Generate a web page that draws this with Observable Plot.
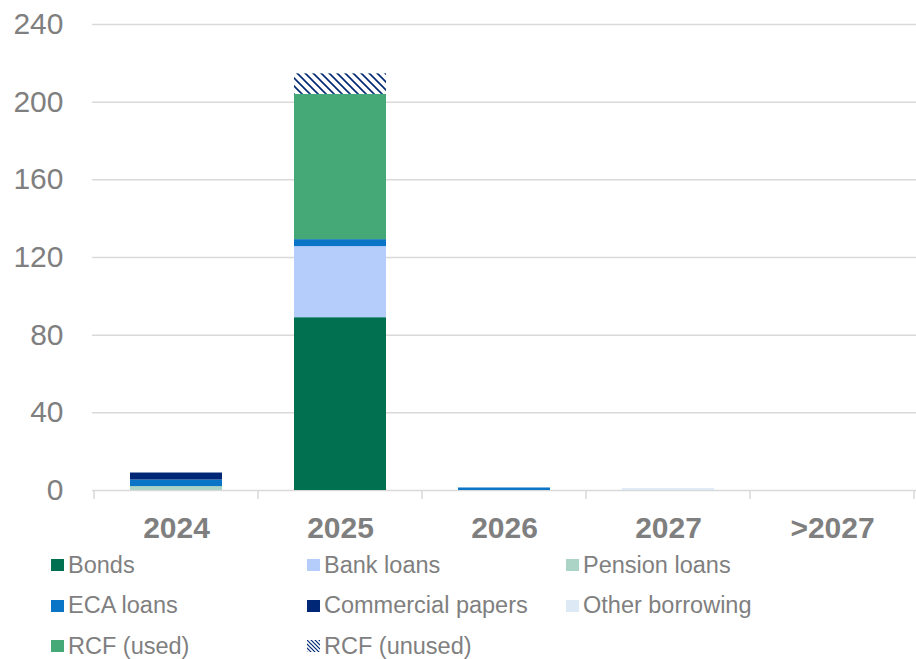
<!DOCTYPE html>
<html>
<head>
<meta charset="utf-8">
<script src="https://cdn.jsdelivr.net/npm/d3@7"></script>
<script src="https://cdn.jsdelivr.net/npm/@observablehq/plot@0.6"></script>
<style>
  html, body { margin: 0; padding: 0; background: #fff; }
  body { width: 916px; height: 659px; overflow: hidden; font-family: "Liberation Sans", Arial, sans-serif; }
  #legend { display: grid; grid-template-columns: 256px 259px 260px; padding-left: 51px; color: #7f7f7f; font-size: 23.5px; }
  .item { height: 40.5px; display: flex; align-items: center; }
  .sw { width: 13px; height: 12px; margin-right: 4px; flex: none; }
</style>
</head>
<body>
<div id="chart"></div>
<div id="legend"></div>
<script>
const years = ["2024", "2025", "2026", "2027", ">2027"];
const types = ["Bonds", "Bank loans", "Pension loans", "ECA loans", "Commercial papers", "Other borrowing", "RCF (used)", "RCF (unused)"];
const colors = ["#007050", "#b4cdfb", "#abd4c6", "#0a74c6", "#002776", "#dde9f5", "#45a877", "url(#hatch)"];
const bonds       = [0, 89, 0, 0, 0];
const bankLoans   = [0, 36.6, 0, 0, 0];
const pension     = [2.0, 0, 0, 0, 0];
const eca         = [3.4, 3.6, 1.3, 0, 0];
const cp          = [3.6, 0, 0, 0, 0];
const other       = [0, 0, 0, 1.0, 0];
const rcfUsed     = [0, 74.8, 0, 0, 0];
const rcfUnused   = [0, 10.6, 0, 0, 0];
const yTicks = [0, 40, 80, 120, 160, 200, 240];

const seriesValues = [bonds, bankLoans, pension, eca, cp, other, rcfUsed, rcfUnused];
const rows = [];
types.forEach((t, i) => years.forEach((y, j) => rows.push({year: y, type: t, value: seriesValues[i][j]})));

const grey = "#7f7f7f";
const gridColor = "#d9d9d9";

const boundaryTicks = (index, scales, values, dimensions) => {
  const x = scales.x, y = scales.y;
  const step = x.step(), bw = x.bandwidth();
  const half = (step - bw) / 2;
  const xs = years.map(c => x(c) - half);
  xs.push(x(years[years.length - 1]) + bw + half);
  const g = d3.create("svg:g");
  g.selectAll("line").data(xs).join("line")
    .attr("x1", d => d).attr("x2", d => d)
    .attr("y1", y(0)).attr("y2", y(0) + 9)
    .attr("stroke", gridColor).attr("stroke-width", 1.5);
  return g.node();
};

const chart = Plot.plot({
  width: 916,
  height: 545,
  marginLeft: 92,
  marginRight: 0,
  marginTop: 24,
  marginBottom: 55,
  style: { fontFamily: "'Liberation Sans', Arial, sans-serif", fontSize: "30px", color: grey, background: "#fff" },
  x: { domain: years, paddingInner: 0.44, paddingOuter: 0.22, label: null },
  y: { domain: [0, 240], label: null },
  color: { domain: types, range: colors },
  marks: [
    Plot.ruleY(yTicks, { stroke: gridColor, strokeWidth: 1.5 }),
    boundaryTicks,
    Plot.barY(rows, Plot.stackY({ x: "year", y: "value", fill: "type", order: types })),
    Plot.axisY({ ticks: yTicks, tickSize: 0, tickPadding: 29, fontSize: 30, fill: grey }),
    Plot.axisX({ tickSize: 0, tickPadding: 26, fontSize: 30, fontWeight: "bold", fill: grey })
  ]
});

// hatch pattern definition
const defs = d3.select(chart).insert("defs", ":first-child");
const pat = defs.append("pattern").attr("id", "hatch").attr("patternUnits", "userSpaceOnUse")
  .attr("width", 8).attr("height", 8);
pat.append("rect").attr("width", 8).attr("height", 8).attr("fill", "#fff");
pat.append("path").attr("d", "M0,0L8,8M-4,4L4,12M4,-4L12,4")
  .attr("stroke", "#002776").attr("stroke-width", 1.6);

document.getElementById("chart").appendChild(chart);

// legend
const legend = d3.select("#legend");
types.forEach((t, i) => {
  const item = legend.append("div").attr("class", "item");
  if (i === types.length - 1) {
    const s = item.append("svg").attr("class", "sw").attr("width", 13).attr("height", 12);
    const p = s.append("defs").append("pattern").attr("id", "hatchL").attr("patternUnits", "userSpaceOnUse")
      .attr("width", 4).attr("height", 4);
    p.append("rect").attr("width", 4).attr("height", 4).attr("fill", "#fff");
    p.append("path").attr("d", "M0,0L4,4M-2,2L2,6M2,-2L6,2").attr("stroke", "#002776").attr("stroke-width", 1.2);
    s.append("rect").attr("width", 13).attr("height", 12).attr("fill", "url(#hatchL)");
  } else {
    item.append("div").attr("class", "sw").style("background", colors[i]);
  }
  item.append("span").text(t);
});
</script>
</body>
</html>
